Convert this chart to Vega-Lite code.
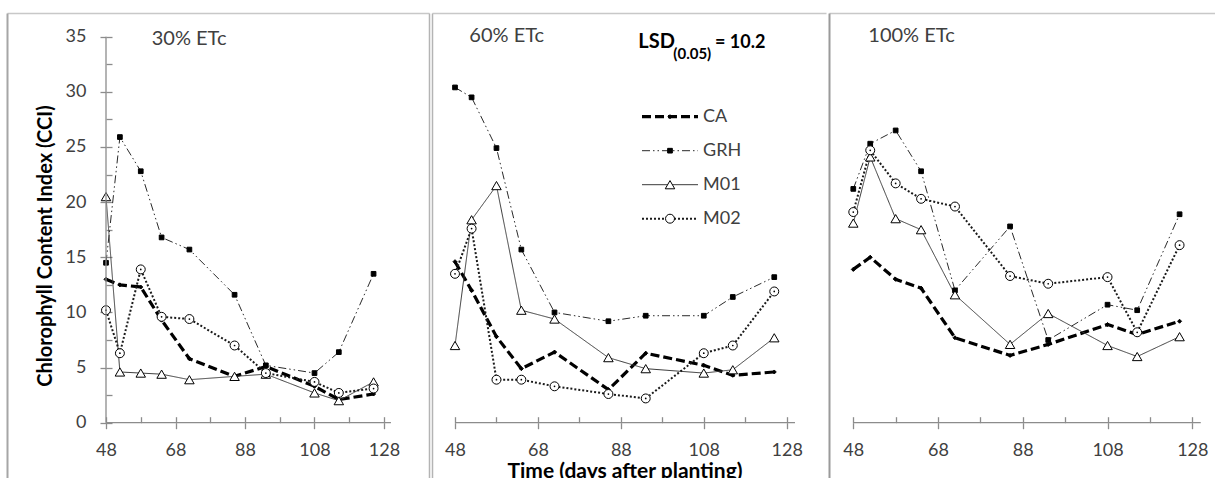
{
"$schema": "https://vega.github.io/schema/vega-lite/v6.json",
"background": "white",
"padding": {"left": 7, "top": 13, "right": 0, "bottom": 0},
"spacing": 3,
"bounds": "flush",
"datasets": {"cci": [
{"etc":"30%","series":"CA","day":48,"cci":13.0},{"etc":"30%","series":"CA","day":52,"cci":12.5},{"etc":"30%","series":"CA","day":58,"cci":12.3},{"etc":"30%","series":"CA","day":64,"cci":9.3},{"etc":"30%","series":"CA","day":72,"cci":5.8},{"etc":"30%","series":"CA","day":85,"cci":4.2},{"etc":"30%","series":"CA","day":94,"cci":5.1},{"etc":"30%","series":"CA","day":108,"cci":3.3},{"etc":"30%","series":"CA","day":115,"cci":2.1},{"etc":"30%","series":"CA","day":125,"cci":2.6},
{"etc":"30%","series":"GRH","day":48,"cci":14.5},{"etc":"30%","series":"GRH","day":52,"cci":25.9},{"etc":"30%","series":"GRH","day":58,"cci":22.8},{"etc":"30%","series":"GRH","day":64,"cci":16.8},{"etc":"30%","series":"GRH","day":72,"cci":15.7},{"etc":"30%","series":"GRH","day":85,"cci":11.6},{"etc":"30%","series":"GRH","day":94,"cci":5.2},{"etc":"30%","series":"GRH","day":108,"cci":4.5},{"etc":"30%","series":"GRH","day":115,"cci":6.4},{"etc":"30%","series":"GRH","day":125,"cci":13.5},
{"etc":"30%","series":"M01","day":48,"cci":20.5},{"etc":"30%","series":"M01","day":52,"cci":4.6},{"etc":"30%","series":"M01","day":58,"cci":4.5},{"etc":"30%","series":"M01","day":64,"cci":4.4},{"etc":"30%","series":"M01","day":72,"cci":3.9},{"etc":"30%","series":"M01","day":85,"cci":4.2},{"etc":"30%","series":"M01","day":94,"cci":4.4},{"etc":"30%","series":"M01","day":108,"cci":2.7},{"etc":"30%","series":"M01","day":115,"cci":2.0},{"etc":"30%","series":"M01","day":125,"cci":3.7},
{"etc":"30%","series":"M02","day":48,"cci":10.2},{"etc":"30%","series":"M02","day":52,"cci":6.3},{"etc":"30%","series":"M02","day":58,"cci":13.9},{"etc":"30%","series":"M02","day":64,"cci":9.6},{"etc":"30%","series":"M02","day":72,"cci":9.4},{"etc":"30%","series":"M02","day":85,"cci":7.0},{"etc":"30%","series":"M02","day":94,"cci":4.5},{"etc":"30%","series":"M02","day":108,"cci":3.7},{"etc":"30%","series":"M02","day":115,"cci":2.7},{"etc":"30%","series":"M02","day":125,"cci":3.1},
{"etc":"60%","series":"CA","day":48,"cci":14.6},{"etc":"60%","series":"CA","day":52,"cci":12.0},{"etc":"60%","series":"CA","day":58,"cci":7.8},{"etc":"60%","series":"CA","day":64,"cci":4.9},{"etc":"60%","series":"CA","day":72,"cci":6.4},{"etc":"60%","series":"CA","day":85,"cci":3.0},{"etc":"60%","series":"CA","day":94,"cci":6.3},{"etc":"60%","series":"CA","day":108,"cci":5.2},{"etc":"60%","series":"CA","day":115,"cci":4.3},{"etc":"60%","series":"CA","day":125,"cci":4.6},
{"etc":"60%","series":"GRH","day":48,"cci":30.4},{"etc":"60%","series":"GRH","day":52,"cci":29.5},{"etc":"60%","series":"GRH","day":58,"cci":24.9},{"etc":"60%","series":"GRH","day":64,"cci":15.7},{"etc":"60%","series":"GRH","day":72,"cci":10.0},{"etc":"60%","series":"GRH","day":85,"cci":9.2},{"etc":"60%","series":"GRH","day":94,"cci":9.7},{"etc":"60%","series":"GRH","day":108,"cci":9.7},{"etc":"60%","series":"GRH","day":115,"cci":11.4},{"etc":"60%","series":"GRH","day":125,"cci":13.2},
{"etc":"60%","series":"M01","day":48,"cci":7.0},{"etc":"60%","series":"M01","day":52,"cci":18.4},{"etc":"60%","series":"M01","day":58,"cci":21.5},{"etc":"60%","series":"M01","day":64,"cci":10.2},{"etc":"60%","series":"M01","day":72,"cci":9.4},{"etc":"60%","series":"M01","day":85,"cci":5.9},{"etc":"60%","series":"M01","day":94,"cci":4.9},{"etc":"60%","series":"M01","day":108,"cci":4.5},{"etc":"60%","series":"M01","day":115,"cci":4.8},{"etc":"60%","series":"M01","day":125,"cci":7.7},
{"etc":"60%","series":"M02","day":48,"cci":13.5},{"etc":"60%","series":"M02","day":52,"cci":17.6},{"etc":"60%","series":"M02","day":58,"cci":3.9},{"etc":"60%","series":"M02","day":64,"cci":3.9},{"etc":"60%","series":"M02","day":72,"cci":3.3},{"etc":"60%","series":"M02","day":85,"cci":2.6},{"etc":"60%","series":"M02","day":94,"cci":2.2},{"etc":"60%","series":"M02","day":108,"cci":6.3},{"etc":"60%","series":"M02","day":115,"cci":7.0},{"etc":"60%","series":"M02","day":125,"cci":11.9},
{"etc":"100%","series":"CA","day":48,"cci":13.9},{"etc":"100%","series":"CA","day":52,"cci":15.0},{"etc":"100%","series":"CA","day":58,"cci":13.0},{"etc":"100%","series":"CA","day":64,"cci":12.2},{"etc":"100%","series":"CA","day":72,"cci":7.7},{"etc":"100%","series":"CA","day":85,"cci":6.1},{"etc":"100%","series":"CA","day":94,"cci":7.1},{"etc":"100%","series":"CA","day":108,"cci":8.9},{"etc":"100%","series":"CA","day":115,"cci":8.0},{"etc":"100%","series":"CA","day":125,"cci":9.2},
{"etc":"100%","series":"GRH","day":48,"cci":21.2},{"etc":"100%","series":"GRH","day":52,"cci":25.3},{"etc":"100%","series":"GRH","day":58,"cci":26.5},{"etc":"100%","series":"GRH","day":64,"cci":22.8},{"etc":"100%","series":"GRH","day":72,"cci":12.0},{"etc":"100%","series":"GRH","day":85,"cci":17.8},{"etc":"100%","series":"GRH","day":94,"cci":7.5},{"etc":"100%","series":"GRH","day":108,"cci":10.7},{"etc":"100%","series":"GRH","day":115,"cci":10.2},{"etc":"100%","series":"GRH","day":125,"cci":18.9},
{"etc":"100%","series":"M01","day":48,"cci":18.1},{"etc":"100%","series":"M01","day":52,"cci":24.1},{"etc":"100%","series":"M01","day":58,"cci":18.5},{"etc":"100%","series":"M01","day":64,"cci":17.5},{"etc":"100%","series":"M01","day":72,"cci":11.6},{"etc":"100%","series":"M01","day":85,"cci":7.1},{"etc":"100%","series":"M01","day":94,"cci":9.9},{"etc":"100%","series":"M01","day":108,"cci":7.0},{"etc":"100%","series":"M01","day":115,"cci":6.0},{"etc":"100%","series":"M01","day":125,"cci":7.8},
{"etc":"100%","series":"M02","day":48,"cci":19.1},{"etc":"100%","series":"M02","day":52,"cci":24.7},{"etc":"100%","series":"M02","day":58,"cci":21.7},{"etc":"100%","series":"M02","day":64,"cci":20.3},{"etc":"100%","series":"M02","day":72,"cci":19.6},{"etc":"100%","series":"M02","day":85,"cci":13.3},{"etc":"100%","series":"M02","day":94,"cci":12.6},{"etc":"100%","series":"M02","day":108,"cci":13.2},{"etc":"100%","series":"M02","day":115,"cci":8.2},{"etc":"100%","series":"M02","day":125,"cci":16.1}
]},
"data": {"name": "cci"},
"hconcat": [
{
 "width": 422, "height": 465,
 "transform": [{"filter": "datum.etc == '30%'"}],
 "layer": [
  {"mark": {"type": "line"},
   "encoding": {
    "x": {"field": "day", "type": "quantitative", "scale": {"domain": [19.51, 140.95], "nice": false, "zero": false},
          "axis": {"orient": "bottom", "offset": -55.3, "values": [48,68,88,108,128], "domain": false, "tickSize": 6, "labelPadding": 13, "title": null}},
    "y": {"field": "cci", "type": "quantitative", "scale": {"domain": [-5.014, 37.149], "nice": false, "zero": false},
          "axis": {"orient": "left", "offset": -99, "values": [0,5,10,15,20,25,30,35], "domain": false, "tickSize": 6, "labelPadding": 14, "title": "Chlorophyll Content Index (CCI)", "titleFontWeight": "bold", "titleFontSize": 20, "titleColor": "#000000", "titlePadding": 10}},
    "strokeDash": {"field": "series", "type": "nominal", "scale": {"domain": ["CA","GRH","M01","M02"], "range": [[9,4],[8,3,1.5,3,1.5,3],[1,0],[2,2]]},
       "legend": {"orient": "none", "legendX": 633, "legendY": 94.7, "title": null, "symbolType": "stroke", "symbolSize": 3136, "symbolStrokeColor": "#000000", "labelFont": "Lato", "labelFontSize": 18, "labelColor": "#404040", "labelOffset": 3, "clipHeight": 18, "rowPadding": 16, "symbolOpacity": 1}},
    "strokeWidth": {"field": "series", "type": "nominal", "scale": {"type": "ordinal", "domain": ["CA","GRH","M01","M02"], "range": [3.2,1,1,2]}},
    "stroke": {"field": "series", "type": "nominal", "scale": {"domain": ["CA","GRH","M01","M02"], "range": ["#000000","#2a2a2a","#3a3a3a","#1a1a1a"]}}
   }},
  {"mark": {"type": "point", "filled": false, "stroke": "#000000", "strokeWidth": 1, "opacity": 1},
   "encoding": {
    "x": {"field": "day", "type": "quantitative", "axis": {"orient": "top", "offset": -409.7, "values": [48,58,68,78,88,98,108,118,128], "domain": false, "labels": false, "tickSize": 6, "title": null}},
    "y": {"field": "cci", "type": "quantitative", "axis": {"orient": "right", "offset": -323, "values": [0,2.5,5,7.5,10,12.5,15,17.5,20,22.5,25,27.5,30,32.5,35], "domain": false, "labels": false, "tickSize": 6, "title": null}},
    "shape": {"field": "series", "type": "nominal", "scale": {"range": ["diamond","square","triangle-up","circle"]},
       "legend": {"orient": "none", "legendX": 654, "legendY": 94.7, "title": null, "symbolFillColor": "#ffffff", "symbolStrokeColor": "#000000", "symbolStrokeWidth": 1, "labelFont": "Lato", "labelFontSize": 18, "labelExpr": "' '", "labelOpacity": 0, "clipHeight": 18, "rowPadding": 16, "symbolOpacity": 1}},
    "fill": {"field": "series", "type": "nominal", "scale": {"range": ["#000000","#000000","#ffffff","#ffffff"]}},
    "size": {"field": "series", "type": "nominal", "scale": {"type": "ordinal", "range": [16,22,90,80]}}
   }},
  {"transform": [{"filter": "datum.series == 'M02'"}],
   "mark": {"type": "point", "filled": true, "shape": "circle", "size": 3, "color": "#000000", "opacity": 1},
   "encoding": {
    "x": {"field": "day", "type": "quantitative", "axis": {"orient": "top", "offset": 0, "values": [], "domain": true, "domainColor": "#c8c8c8", "domainWidth": 1.5, "ticks": false, "labels": false, "title": null}},
    "y": {"field": "cci", "type": "quantitative", "axis": {"orient": "left", "offset": 0, "values": [], "domain": true, "domainColor": "#a6a6a6", "domainWidth": 2, "ticks": false, "labels": false, "title": null}}
   }},
  {"data": {"values": [{}]},
   "mark": {"type": "rule", "color": "#8c8c8c", "strokeWidth": 1.3},
   "encoding": {
    "x": {"datum": 48, "type": "quantitative", "axis": null}, "x2": {"datum": 130},
    "y": {"datum": 0, "type": "quantitative", "axis": {"orient": "right", "offset": 0, "values": [], "domain": true, "domainColor": "#b4b4b4", "domainWidth": 1.5, "ticks": false, "labels": false, "title": null}}
   }},
  {"data": {"values": [{}]},
   "mark": {"type": "rule", "color": "#8c8c8c", "strokeWidth": 1.3},
   "encoding": {
    "x": {"datum": 48, "type": "quantitative", "axis": null},
    "y": {"datum": 0, "type": "quantitative", "axis": null}, "y2": {"datum": 35}
   }},
  {"data": {"values": [{}]},
   "mark": {"type": "text", "text": "30% ETc", "align": "left", "baseline": "alphabetic", "font": "Lato", "fontSize": 20, "color": "#404040"},
   "encoding": {"x": {"datum": 61.15, "type": "quantitative", "axis": null}, "y": {"datum": 34.25, "type": "quantitative", "axis": null}}}
 ],
 "resolve": {"axis": {"x": "independent", "y": "independent"}}
},
{
 "width": 394, "height": 465,
 "transform": [{"filter": "datum.etc == '60%'"}],
 "layer": [
  {"mark": {"type": "line"},
   "encoding": {
    "x": {"field": "day", "type": "quantitative", "scale": {"domain": [42.45, 137.48], "nice": false, "zero": false},
          "axis": {"orient": "bottom", "offset": -55.3, "values": [48,68,88,108,128], "domain": false, "tickSize": 6, "labelPadding": 13, "title": null}},
    "y": {"field": "cci", "type": "quantitative", "scale": {"domain": [-5.014, 37.149], "nice": false, "zero": false}, "axis": null},
    "strokeDash": {"field": "series", "type": "nominal", "scale": {"domain": ["CA","GRH","M01","M02"], "range": [[9,4],[8,3,1.5,3,1.5,3],[1,0],[2,2]]},
       "legend": {"orient": "none", "legendX": 633, "legendY": 94.7, "title": null, "symbolType": "stroke", "symbolSize": 3136, "symbolStrokeColor": "#000000", "labelFont": "Lato", "labelFontSize": 18, "labelColor": "#404040", "labelOffset": 3, "clipHeight": 18, "rowPadding": 16, "symbolOpacity": 1}},
    "strokeWidth": {"field": "series", "type": "nominal", "scale": {"type": "ordinal", "domain": ["CA","GRH","M01","M02"], "range": [3.2,1,1,2]}},
    "stroke": {"field": "series", "type": "nominal", "scale": {"domain": ["CA","GRH","M01","M02"], "range": ["#000000","#2a2a2a","#3a3a3a","#1a1a1a"]}}
   }},
  {"mark": {"type": "point", "filled": false, "stroke": "#000000", "strokeWidth": 1, "opacity": 1},
   "encoding": {
    "x": {"field": "day", "type": "quantitative", "axis": {"orient": "top", "offset": -409.7, "values": [48,58,68,78,88,98,108,118,128], "domain": false, "labels": false, "tickSize": 6, "title": null}},
    "y": {"field": "cci", "type": "quantitative", "axis": null},
    "shape": {"field": "series", "type": "nominal", "scale": {"range": ["diamond","square","triangle-up","circle"]},
       "legend": {"orient": "none", "legendX": 654, "legendY": 94.7, "title": null, "symbolFillColor": "#ffffff", "symbolStrokeColor": "#000000", "symbolStrokeWidth": 1, "labelFont": "Lato", "labelFontSize": 18, "labelExpr": "' '", "labelOpacity": 0, "clipHeight": 18, "rowPadding": 16, "symbolOpacity": 1}},
    "fill": {"field": "series", "type": "nominal", "scale": {"range": ["#000000","#000000","#ffffff","#ffffff"]}},
    "size": {"field": "series", "type": "nominal", "scale": {"type": "ordinal", "range": [16,22,90,80]}}
   }},
  {"transform": [{"filter": "datum.series == 'M02'"}],
   "mark": {"type": "point", "filled": true, "shape": "circle", "size": 3, "color": "#000000", "opacity": 1},
   "encoding": {
    "x": {"field": "day", "type": "quantitative", "axis": {"orient": "top", "offset": 0, "values": [], "domain": true, "domainColor": "#c8c8c8", "domainWidth": 1.5, "ticks": false, "labels": false, "title": null}},
    "y": {"field": "cci", "type": "quantitative", "axis": {"orient": "left", "offset": 0, "values": [], "domain": true, "domainColor": "#b4b4b4", "domainWidth": 1.5, "ticks": false, "labels": false, "title": null}}
   }},
  {"data": {"values": [{}]},
   "mark": {"type": "rule", "color": "#8c8c8c", "strokeWidth": 1.3},
   "encoding": {
    "x": {"datum": 48, "type": "quantitative", "axis": null}, "x2": {"datum": 130},
    "y": {"datum": 0, "type": "quantitative", "axis": null}
   }},
  {"data": {"values": [{}]},
   "mark": {"type": "text", "text": "60% ETc", "align": "left", "baseline": "alphabetic", "font": "Lato", "fontSize": 20, "color": "#404040"},
   "encoding": {"x": {"datum": 51.45, "type": "quantitative", "axis": null}, "y": {"datum": 34.49, "type": "quantitative", "axis": null}}},
  {"data": {"values": [{}]},
   "mark": {"type": "text", "text": "LSD", "align": "left", "baseline": "alphabetic", "font": "Lato", "fontSize": 20, "fontWeight": "bold", "color": "#000000"},
   "encoding": {"x": {"datum": 92.22, "type": "quantitative", "axis": null}, "y": {"datum": 33.95, "type": "quantitative", "axis": null}}},
  {"data": {"values": [{}]},
   "mark": {"type": "text", "text": "(0.05)", "align": "left", "baseline": "alphabetic", "font": "Lato", "fontSize": 15, "fontWeight": "bold", "color": "#000000"},
   "encoding": {"x": {"datum": 100.66, "type": "quantitative", "axis": null}, "y": {"datum": 33.0, "type": "quantitative", "axis": null}}},
  {"data": {"values": [{}]},
   "mark": {"type": "text", "text": "= 10.2", "align": "left", "baseline": "alphabetic", "font": "Lato", "fontSize": 18, "fontWeight": "bold", "color": "#000000"},
   "encoding": {"x": {"datum": 110.7, "type": "quantitative", "axis": null}, "y": {"datum": 33.95, "type": "quantitative", "axis": null}}},
  {"data": {"values": [{}]},
   "mark": {"type": "text", "text": "Time (days after planting)", "align": "center", "baseline": "alphabetic", "font": "Lato", "fontSize": 21, "fontWeight": "bold", "color": "#000000", "clip": true},
   "encoding": {"x": {"datum": 89, "type": "quantitative", "axis": null}, "y": {"datum": -4.97, "type": "quantitative", "axis": null}}}
 ],
 "resolve": {"axis": {"x": "independent", "y": "independent"}}
},
{
 "width": 386, "height": 465,
 "transform": [{"filter": "datum.etc == '100%'"}],
 "layer": [
  {"mark": {"type": "line"},
   "encoding": {
    "x": {"field": "day", "type": "quantitative", "scale": {"domain": [42.27, 133.36], "nice": false, "zero": false},
          "axis": {"orient": "bottom", "offset": -55.3, "values": [48,68,88,108,128], "domain": false, "tickSize": 6, "labelPadding": 13, "title": null}},
    "y": {"field": "cci", "type": "quantitative", "scale": {"domain": [-5.014, 37.149], "nice": false, "zero": false}, "axis": null},
    "strokeDash": {"field": "series", "type": "nominal", "scale": {"domain": ["CA","GRH","M01","M02"], "range": [[9,4],[8,3,1.5,3,1.5,3],[1,0],[2,2]]},
       "legend": {"orient": "none", "legendX": 633, "legendY": 94.7, "title": null, "symbolType": "stroke", "symbolSize": 3136, "symbolStrokeColor": "#000000", "labelFont": "Lato", "labelFontSize": 18, "labelColor": "#404040", "labelOffset": 3, "clipHeight": 18, "rowPadding": 16, "symbolOpacity": 1}},
    "strokeWidth": {"field": "series", "type": "nominal", "scale": {"type": "ordinal", "domain": ["CA","GRH","M01","M02"], "range": [3.2,1,1,2]}},
    "stroke": {"field": "series", "type": "nominal", "scale": {"domain": ["CA","GRH","M01","M02"], "range": ["#000000","#2a2a2a","#3a3a3a","#1a1a1a"]}}
   }},
  {"mark": {"type": "point", "filled": false, "stroke": "#000000", "strokeWidth": 1, "opacity": 1},
   "encoding": {
    "x": {"field": "day", "type": "quantitative", "axis": {"orient": "top", "offset": -409.7, "values": [48,58,68,78,88,98,108,118,128], "domain": false, "labels": false, "tickSize": 6, "title": null}},
    "y": {"field": "cci", "type": "quantitative", "axis": null},
    "shape": {"field": "series", "type": "nominal", "scale": {"range": ["diamond","square","triangle-up","circle"]},
       "legend": {"orient": "none", "legendX": 654, "legendY": 94.7, "title": null, "symbolFillColor": "#ffffff", "symbolStrokeColor": "#000000", "symbolStrokeWidth": 1, "labelFont": "Lato", "labelFontSize": 18, "labelExpr": "' '", "labelOpacity": 0, "clipHeight": 18, "rowPadding": 16, "symbolOpacity": 1}},
    "fill": {"field": "series", "type": "nominal", "scale": {"range": ["#000000","#000000","#ffffff","#ffffff"]}},
    "size": {"field": "series", "type": "nominal", "scale": {"type": "ordinal", "range": [16,22,90,80]}}
   }},
  {"transform": [{"filter": "datum.series == 'M02'"}],
   "mark": {"type": "point", "filled": true, "shape": "circle", "size": 3, "color": "#000000", "opacity": 1},
   "encoding": {
    "x": {"field": "day", "type": "quantitative", "axis": {"orient": "top", "offset": 0, "values": [], "domain": true, "domainColor": "#c8c8c8", "domainWidth": 1.5, "ticks": false, "labels": false, "title": null}},
    "y": {"field": "cci", "type": "quantitative", "axis": {"orient": "left", "offset": 0, "values": [], "domain": true, "domainColor": "#9a9a9a", "domainWidth": 2, "ticks": false, "labels": false, "title": null}}
   }},
  {"data": {"values": [{}]},
   "mark": {"type": "rule", "color": "#8c8c8c", "strokeWidth": 1.3},
   "encoding": {
    "x": {"datum": 48, "type": "quantitative", "axis": null}, "x2": {"datum": 130},
    "y": {"datum": 0, "type": "quantitative", "axis": null}
   }},
  {"data": {"values": [{}]},
   "mark": {"type": "text", "text": "100% ETc", "align": "left", "baseline": "alphabetic", "font": "Lato", "fontSize": 20, "color": "#404040"},
   "encoding": {"x": {"datum": 51.54, "type": "quantitative", "axis": null}, "y": {"datum": 34.49, "type": "quantitative", "axis": null}}}
 ],
 "resolve": {"axis": {"x": "independent", "y": "independent"}}
}
],
"config": {
 "view": {"stroke": null},
 "font": "Lato",
 "axis": {"grid": false, "minExtent": 0, "labelFont": "Lato", "labelFontSize": 18, "labelColor": "#404040", "tickColor": "#8c8c8c", "tickWidth": 1.3, "labelFlush": false, "labelOverlap": false, "titleFont": "Lato"}
}
}
